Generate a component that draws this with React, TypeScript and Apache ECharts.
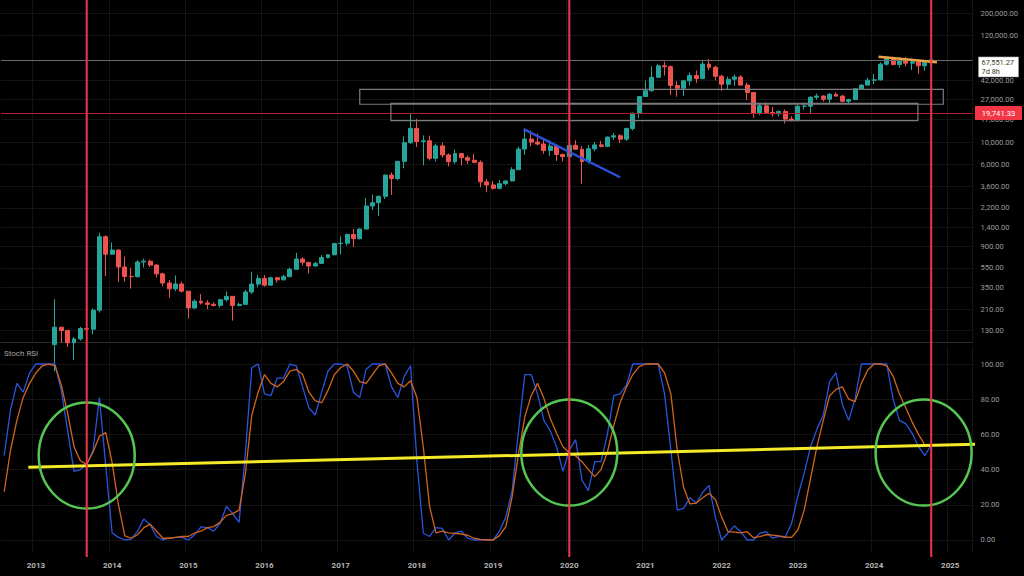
import React, { useEffect, useRef } from "react";
import * as echarts from "echarts";

// ---------- categories (monthly) ----------
const FIRST_YEAR = 2012;
const FIRST_MONTH = 8; // August 2012
const MONTH_COUNT = 153; // through April 2025
const months: string[] = [];
for (let k = 0; k < MONTH_COUNT; k++) {
  const m = FIRST_MONTH - 1 + k;
  const y = FIRST_YEAR + Math.floor(m / 12);
  months.push(`${y}-${String((m % 12) + 1).padStart(2, "0")}`);
}

// ---------- price candles, [open, close, low, high], from 2013-04 ----------
const priceStart = "2013-04";
const candles2013 = [
  [93, 139, 50, 266], [139, 129, 97, 140], [129, 97, 88, 130], [97, 106, 65, 111],
  [106, 135, 102, 140], [135, 133, 116, 145], [133, 206, 118, 215], [206, 1130, 195, 1242],
  [1130, 754, 455, 1163],
];
const candles2014 = [
  [754, 830, 740, 990], [830, 560, 396, 840], [560, 450, 400, 710], [450, 447, 340, 550],
  [447, 628, 440, 660], [628, 640, 555, 680], [640, 585, 560, 665], [585, 478, 440, 600],
  [478, 387, 360, 490], [387, 338, 275, 415], [338, 378, 320, 460], [378, 320, 310, 400],
];
const candles2015 = [
  [320, 217, 170, 320], [217, 254, 212, 265], [254, 244, 235, 299], [244, 236, 211, 260],
  [236, 230, 225, 248], [230, 263, 218, 269], [263, 284, 253, 318], [284, 230, 162, 286],
  [230, 236, 225, 245], [236, 314, 235, 330], [314, 377, 300, 502], [377, 430, 350, 466],
];
const candles2016 = [
  [430, 368, 355, 465], [368, 437, 365, 448], [437, 416, 390, 439], [416, 448, 412, 468],
  [448, 531, 443, 550], [531, 674, 528, 778], [674, 624, 580, 704], [624, 573, 482, 627],
  [573, 609, 570, 630], [609, 698, 603, 740], [698, 742, 683, 755], [742, 963, 741, 981],
];
const candles2017 = [
  [963, 970, 750, 1153], [970, 1190, 915, 1210], [1190, 1080, 890, 1350], [1080, 1348, 1060, 1365],
  [1348, 2300, 1340, 2760], [2300, 2480, 2080, 2980], [2480, 2875, 1830, 2925], [2875, 4700, 2700, 4760],
  [4700, 4338, 2970, 4980], [4338, 6468, 4160, 6470], [6468, 9947, 5500, 11500], [9947, 13850, 9700, 19700],
];
const candles2018 = [
  [13850, 10221, 9000, 17250], [10221, 10397, 5900, 11780], [10397, 6926, 6600, 11700], [6926, 9240, 6430, 9750],
  [9240, 7494, 7030, 9990], [7494, 6404, 5750, 7770], [6404, 7730, 6100, 8490], [7730, 7033, 5880, 7750],
  [7033, 6625, 6100, 7400], [6625, 6318, 6200, 7680], [6318, 4017, 3550, 6600], [4017, 3742, 3160, 4300],
];
const candles2019 = [
  [3742, 3457, 3350, 4100], [3457, 3854, 3380, 4200], [3854, 4105, 3700, 4140], [4105, 5320, 4070, 5640],
  [5320, 8574, 5300, 9100], [8574, 10818, 7500, 13880], [10818, 10085, 9100, 13200], [10085, 9630, 9330, 12330],
  [9630, 8293, 7700, 10900], [8293, 9199, 7300, 10540], [9199, 7569, 6520, 9510], [7569, 7193, 6430, 7750],
];
const candles2020 = [
  [7193, 9350, 6850, 9580], [9350, 8544, 8450, 10500], [8544, 6424, 3850, 9190], [6424, 8624, 6150, 9470],
  [8624, 9455, 8130, 10080], [9455, 9137, 8900, 10390], [9137, 11323, 8990, 11450], [11323, 11680, 10600, 12470],
  [11680, 10784, 9880, 12090], [10784, 13804, 10370, 14100], [13804, 19700, 13200, 19850], [19700, 28990, 17600, 29300],
];
const candles2021 = [
  [28990, 33114, 28800, 41950], [33114, 45137, 32300, 58350], [45137, 58918, 45000, 61800], [58918, 57750, 47000, 64900],
  [57750, 37332, 30000, 59500], [37332, 35040, 28800, 41300], [35040, 41626, 29300, 42300], [41626, 47166, 37300, 50500],
  [47166, 43790, 39600, 52900], [43790, 61318, 43300, 67000], [61318, 57005, 53300, 69000], [57005, 46306, 42000, 59100],
];
const candles2022 = [
  [46306, 38483, 32900, 47900], [38483, 43193, 34300, 45800], [43193, 45538, 37200, 48200], [45538, 37714, 37600, 47500],
  [37714, 31792, 26700, 40000], [31792, 19784, 17600, 31900], [19784, 23336, 18800, 24700], [23336, 20049, 19600, 25200],
  [20049, 19431, 18200, 22800], [19431, 20495, 18200, 21000], [20495, 17168, 15500, 21500], [17168, 16548, 16300, 18400],
];
const candles2023 = [
  [16548, 23139, 16500, 23900], [23139, 23147, 21400, 25200], [23147, 28478, 19600, 29200], [28478, 29268, 26900, 31000],
  [29268, 27219, 25800, 29800], [27219, 30477, 24800, 31400], [30477, 29230, 28900, 31800], [29230, 25940, 25300, 30100],
  [25940, 26967, 24900, 27500], [26967, 34667, 26900, 35200], [34667, 37712, 34100, 38400], [37712, 42265, 37600, 44700],
];
const candles2024 = [
  [42265, 42580, 38500, 48900], [42580, 61198, 41900, 64000], [61198, 71333, 59000, 73800], [71333, 60636, 59600, 72800],
  [60636, 67491, 56500, 71900], [67491, 62678, 58400, 71900], [62678, 64620, 53500, 70000], [64620, 58970, 49000, 65000],
  [58970, 63329, 52600, 66500], [63329, 67551.27, 58900, 69500],
];

// ---------- Stoch RSI, from 2012-08 ----------
const stochK = [
  48, 74, 89, 84, 95, 100, 100, 100, 100, 85,
  62, 39, 40, 43, 51, 81, 42, 4, 1.5, 0,
  0.5, 5, 12, 8.5, 2, 0, 1, 1.5, 1.5, 0,
  3, 7.5, 7, 5, 9.5, 19, 15, 10, 50, 98,
  100, 83, 82, 92, 92, 100, 99, 87, 75, 71,
  84, 96, 100, 100, 99, 84, 81, 97, 100, 100,
  100, 87, 81, 93, 99, 45, 4, 2, 7, 6.6,
  0, 4, 5, 1, 0, 0, 0, 0, 5, 13,
  28, 62, 94, 94, 83, 68, 62, 53, 39, 51,
  57, 34, 28, 44.5, 44.5, 60, 82, 83, 88, 100,
  100, 100, 100, 100, 83, 51, 17, 18, 24, 21,
  27, 31, 13, 0, 4, 8, 4.7, 0, 0, 3.8,
  4.7, 1, 2, 1.5, 9.5, 25, 38, 53, 63, 71,
  90, 95, 77, 68, 80, 100, 100, 100, 100, 100,
  80, 68, 66, 60.6, 53, 48, 54,
];
const stochD = [
  27.5, 51, 68, 81, 89, 95, 99, 100, 99, 88,
  72, 53, 45, 43, 50, 59, 61, 44, 20, 2.3,
  1, 3, 7, 9, 5, 1, 1, 1.5, 2, 2,
  4, 5, 7, 7.6, 10, 14, 15, 17, 38, 71,
  84, 94, 89, 87, 90, 96, 97, 94, 84, 79,
  78, 85, 94, 98, 100, 96, 90, 89, 94, 99,
  100, 95, 89, 87, 90.5, 81, 53, 19, 4, 5,
  4, 3.8, 3.4, 2.7, 1, 0.4, 0, 0, 2.5, 7.6,
  24.6, 49, 70, 82, 89, 80.5, 69, 60.6, 53, 49.6,
  47.7, 44.5, 40, 36, 40, 50, 65, 78, 87, 94,
  98.5, 100, 100, 100, 95, 83, 51, 30, 20.5, 21,
  24, 26.5, 23, 13, 4.7, 4.5, 4, 4.7, 1.3, 1.9,
  3, 2.8, 2.3, 1.7, 1.5, 5.7, 17, 35, 53, 68,
  82, 85.6, 87, 80, 78.6, 89, 96.6, 100, 100, 99,
  93, 83, 75, 67, 60, 54, 53,
];

// ---------- tick labels ----------
const priceTicks = [130, 210, 350, 550, 900, 1400, 2200, 3600, 6000, 10000, 17000, 27000, 42000, 120000, 200000];
const stochTicks = [0, 20, 40, 60, 80, 100];

// ---------- drawn annotations (month index, value) ----------
const lastPrice = 67551.27;
const lastPriceTimer = "7d 8h";
const levelPrice = 19741.33;
const redVerticals = [13, 89, 146];
const zones = [
  { from: 56.0, to: 147.9, high: 34200, low: 24200 },
  { from: 60.9, to: 143.9, high: 24700, low: 16550 },
];
const blueTrend = [[81.8, 13650], [97.0, 4470]];
const orangeTrend = [[137.7, 72800], [146.9, 63950]];
const yellowTrend = [[3.8, 41.3], [152.9, 54.4]];
const circleCenters = [[13, 48], [89, 49.7], [144.8, 49.7]];

const fmt2 = (v: number) =>
  v.toLocaleString("en-US", { minimumFractionDigits: 2, maximumFractionDigits: 2 });

export default function App() {
  const ref = useRef<HTMLDivElement>(null);

  useEffect(() => {
    document.body.style.margin = "0";
    document.body.style.background = "#000";
    const el = ref.current!;
    const chart = echarts.init(el, null, { renderer: "svg" });

    const allCandles = [
      ...candles2013, ...candles2014, ...candles2015, ...candles2016, ...candles2017, ...candles2018,
      ...candles2019, ...candles2020, ...candles2021, ...candles2022, ...candles2023, ...candles2024,
    ];
    const startIdx = months.indexOf(priceStart);
    const candleData: any[] = months.map((_, i) =>
      i >= startIdx && i - startIdx < allCandles.length ? allCandles[i - startIdx] : "-"
    );

    const isJan = (_i: number, v: string) => v.endsWith("-01");
    const FONT = "Roboto, 'Noto Sans', sans-serif";
    const GL = 1, GW = 971.5;
    const gridLine = "#141414";

    const option: any = {
      animation: false,
      backgroundColor: "#000000",
      textStyle: { fontFamily: FONT },
      grid: [
        { left: GL, top: 0, width: GW, height: 342 },
        { left: GL, top: 346, width: GW, height: 206 },
      ],
      xAxis: [
        {
          type: "category", gridIndex: 0, data: months, boundaryGap: true,
          axisLabel: { show: false }, axisTick: { show: false },
          axisLine: { show: true, lineStyle: { color: "#2c2c2c", width: 1 } },
          splitLine: { show: true, interval: isJan, lineStyle: { color: gridLine, width: 1 } },
        },
        {
          type: "category", gridIndex: 1, data: months, boundaryGap: true,
          axisTick: { show: false }, axisLine: { show: false },
          axisLabel: {
            interval: isJan, formatter: (v: string) => v.slice(0, 4),
            color: "#b4b4b4", fontSize: 8, fontWeight: "bold", margin: 9, fontFamily: FONT,
          },
          splitLine: { show: true, interval: isJan, lineStyle: { color: gridLine, width: 1 } },
        },
      ],
      yAxis: [
        {
          type: "log", logBase: 10, gridIndex: 0, position: "right", min: 98.74, max: 270300,
          axisLine: { show: false },
          axisTick: { show: false, customValues: priceTicks },
          axisLabel: {
            customValues: priceTicks, formatter: (v: number) => fmt2(v),
            color: "#9c9c9c", fontSize: 7.6, margin: 8, fontFamily: FONT,
          },
          splitLine: { show: true, lineStyle: { color: gridLine, width: 1 } },
        },
        {
          type: "value", gridIndex: 1, position: "right", min: -6.82, max: 110.23,
          axisLine: { show: false },
          axisTick: { show: false, customValues: stochTicks },
          axisLabel: {
            customValues: stochTicks, formatter: (v: number) => v.toFixed(2),
            color: "#9c9c9c", fontSize: 7.6, margin: 8, fontFamily: FONT,
          },
          splitLine: { show: true, lineStyle: { color: gridLine, width: 1 } },
        },
      ],
      series: [
        {
          type: "candlestick", xAxisIndex: 0, yAxisIndex: 0, data: candleData, clip: true,
          barWidth: "70%",
          itemStyle: {
            color: "#26a69a", color0: "#ef5350", borderColor: "#26a69a", borderColor0: "#ef5350", borderWidth: 1,
          },
          markLine: {
            silent: true, symbol: "none", label: { show: false }, animation: false,
            data: [
              { yAxis: lastPrice, lineStyle: { color: "#6a6a6a", width: 1, type: "solid" } },
              { yAxis: levelPrice, lineStyle: { color: "#b3202b", width: 1, type: "solid" } },
            ],
          },
        },
        {
          type: "line", name: "K", xAxisIndex: 1, yAxisIndex: 1, data: stochK,
          symbol: "none", showSymbol: false, lineStyle: { color: "#2a55dc", width: 1.3 },
        },
        {
          type: "line", name: "D", xAxisIndex: 1, yAxisIndex: 1, data: stochD,
          symbol: "none", showSymbol: false, lineStyle: { color: "#d2641c", width: 1.3 },
        },
      ],
    };
    chart.setOption(option);

    const pt = (gi: number, f: number, v: number) => {
      const i0 = Math.floor(f);
      const a = chart.convertToPixel({ gridIndex: gi }, [i0, v]) as number[];
      const b = chart.convertToPixel({ gridIndex: gi }, [i0 + 1, v]) as number[];
      return [a[0] + (f - i0) * (b[0] - a[0]), a[1]];
    };
    const right = GL + GW;
    const g: any[] = [];

    zones.forEach((z) => {
      const p1 = pt(0, z.from, z.high);
      const p2 = pt(0, z.to, z.low);
      g.push({
        type: "rect", z: 50, shape: { x: p1[0], y: p1[1], width: p2[0] - p1[0], height: p2[1] - p1[1] },
        style: { fill: "rgba(0,0,0,0)", stroke: "#7c7c7c", lineWidth: 1.2 },
      });
    });

    const bl1 = pt(0, blueTrend[0][0], blueTrend[0][1]);
    const bl2 = pt(0, blueTrend[1][0], blueTrend[1][1]);
    g.push({ type: "line", z: 60, shape: { x1: bl1[0], y1: bl1[1], x2: bl2[0], y2: bl2[1] }, style: { stroke: "#2a52d6", lineWidth: 2.5 } });
    const or1 = pt(0, orangeTrend[0][0], orangeTrend[0][1]);
    const or2 = pt(0, orangeTrend[1][0], orangeTrend[1][1]);
    g.push({ type: "line", z: 60, shape: { x1: or1[0], y1: or1[1], x2: or2[0], y2: or2[1] }, style: { stroke: "#e9a244", lineWidth: 2.5 } });

    const y1 = pt(1, yellowTrend[0][0], yellowTrend[0][1]);
    const y2 = pt(1, yellowTrend[1][0], yellowTrend[1][1]);
    g.push({ type: "line", z: 60, shape: { x1: y1[0], y1: y1[1], x2: y2[0], y2: y2[1] }, style: { stroke: "#f4ea2a", lineWidth: 3 } });

    circleCenters.forEach((c) => {
      const p = pt(1, c[0], c[1]);
      g.push({ type: "ellipse", z: 61, shape: { cx: p[0], cy: p[1], rx: 48, ry: 53 }, style: { fill: "rgba(0,0,0,0)", stroke: "#56c653", lineWidth: 2.5 } });
    });

    redVerticals.forEach((i) => {
      const p = pt(0, i, 1000);
      g.push({ type: "line", z: 70, shape: { x1: p[0], y1: 0, x2: p[0], y2: 557 }, style: { stroke: "#f2364a", lineWidth: 2 } });
    });

    // price labels on the scale
    const lp = pt(0, 0, lastPrice)[1];
    g.push({
      type: "rect", z: 80, shape: { x: right + 6, y: lp - 3, width: 40, height: 20 },
      style: { fill: "#ffffff", stroke: "#9a9a9a", lineWidth: 0.6 },
    });
    g.push({
      type: "text", z: 81, x: right + 9, y: lp + 2.6,
      style: { text: fmt2(lastPrice), fill: "#3b3b1e", fontSize: 7.4, fontFamily: FONT, textAlign: "left", textVerticalAlign: "middle", align: "left", verticalAlign: "middle" },
    });
    g.push({
      type: "text", z: 81, x: right + 9, y: lp + 11.3,
      style: { text: lastPriceTimer, fill: "#3b3b1e", fontSize: 7.4, fontFamily: FONT, textAlign: "left", textVerticalAlign: "middle", align: "left", verticalAlign: "middle" },
    });
    const rp = pt(0, 0, levelPrice)[1];
    g.push({ type: "rect", z: 80, shape: { x: right + 2.5, y: rp - 7, width: 47, height: 14 }, style: { fill: "#f23645" } });
    g.push({
      type: "text", z: 81, x: right + 26, y: rp + 0.5,
      style: { text: fmt2(levelPrice), fill: "#ffffff", fontSize: 7.6, fontFamily: FONT, textAlign: "center", textVerticalAlign: "middle", align: "center", verticalAlign: "middle" },
    });

    g.push({
      type: "text", z: 81, x: 4, y: 353,
      style: { text: "Stoch RSI", fill: "#a4a4a4", fontSize: 8, fontFamily: FONT, textAlign: "left", textVerticalAlign: "middle", align: "left", verticalAlign: "middle" },
    });

    chart.setOption({ graphic: g });

    return () => chart.dispose();
  }, []);

  return (
    <div
      ref={ref}
      style={{ position: "fixed", left: 0, top: 0, width: 1024, height: 576, background: "#000" }}
    />
  );
}
